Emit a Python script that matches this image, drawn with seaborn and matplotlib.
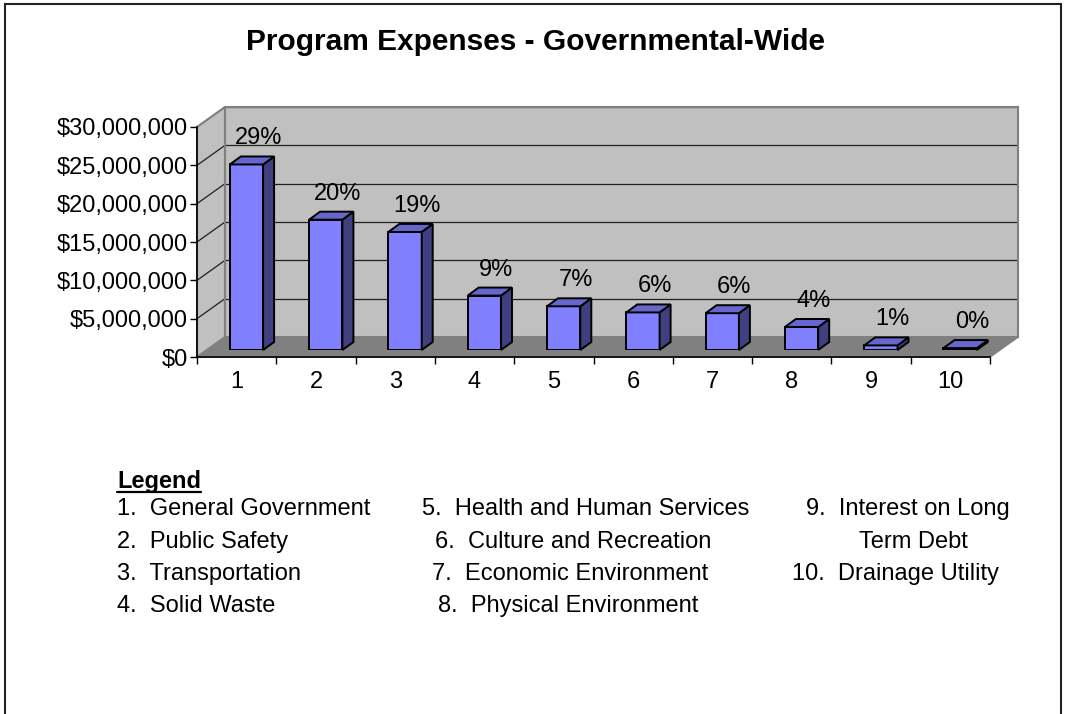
import matplotlib
matplotlib.use("Agg")
import matplotlib.pyplot as plt
import pandas as pd
import seaborn as sns
from matplotlib.patches import Polygon, Rectangle
from matplotlib.lines import Line2D
from matplotlib.transforms import IdentityTransform
from matplotlib.ticker import FuncFormatter, FixedLocator

# ---- data -------------------------------------------------------------
categories = ["1", "2", "3", "4", "5", "6", "7", "8", "9", "10"]
programs = [
    "General Government", "Public Safety", "Transportation", "Solid Waste",
    "Health and Human Services", "Culture and Recreation",
    "Economic Environment", "Physical Environment",
    "Interest on Long Term Debt", "Drainage Utility",
]
expenses = [24.2e6, 17.0e6, 15.4e6, 7.1e6, 5.7e6, 4.9e6, 4.8e6, 3.0e6, 0.6e6, 0.25e6]
y_ticks = [0, 5e6, 10e6, 15e6, 20e6, 25e6, 30e6]
title = "Program Expenses - Governmental-Wide"

# ---- style ------------------------------------------------------------
sns.set_theme(style="white")
plt.rcParams["font.family"] = ["Liberation Sans", "DejaVu Sans"]
plt.rcParams.update({"text.color": "black", "axes.labelcolor": "black",
                     "xtick.color": "black", "ytick.color": "black"})

W, H = 1065, 714
fig = plt.figure(figsize=(W / 100, H / 100), dpi=100)
fig.patch.set_facecolor("white")


def box(left, top, right, bottom):
    return [left / W, 1 - bottom / H, (right - left) / W, (bottom - top) / H]


FRONT_FILL = "#8080FF"
TOP_FILL = "#6666CC"
SIDE_FILL = "#404080"
WALL = "#C0C0C0"
FLOOR = "#808080"
EDGE = "#808080"
DEPTH = (11, 8)          # bar depth in pixels (right, up)
FS = 17

# back wall, bar plane and front (axis) plane share the same data limits
ax_back = fig.add_axes(box(225, 107, 1018, 337), zorder=0)
ax_bar = fig.add_axes(box(206.8, 120, 999.8, 350), zorder=1)
ax_front = fig.add_axes(box(197, 127, 990, 357), zorder=2)
for a in (ax_back, ax_bar, ax_front):
    a.set_xlim(-0.5, len(categories) - 0.5)
    a.set_ylim(0, y_ticks[-1])

# ---- back wall --------------------------------------------------------
ax_back.set_facecolor(WALL)
ax_back.set_yticks(y_ticks)
ax_back.set_xticks([])
ax_back.yaxis.grid(True, color="#202020", lw=0.9)
ax_back.tick_params(left=False, labelleft=False, bottom=False, labelbottom=False)
for s in ax_back.spines.values():
    s.set_color(EDGE)
    s.set_linewidth(1.5)


def disp(ax, x, y):
    return ax.transData.transform((x, y))


x_lo, x_hi = -0.5, len(categories) - 0.5
ident = IdentityTransform()

floor = [disp(ax_front, x_lo, 0), disp(ax_front, x_hi, 0),
         disp(ax_back, x_hi, 0), disp(ax_back, x_lo, 0)]
ax_back.add_patch(Polygon(floor, closed=True, transform=ident, facecolor=FLOOR,
                          edgecolor=EDGE, lw=1.2, clip_on=False))
side_wall = [disp(ax_front, x_lo, 0), disp(ax_front, x_lo, y_ticks[-1]),
             disp(ax_back, x_lo, y_ticks[-1]), disp(ax_back, x_lo, 0)]
ax_back.add_patch(Polygon(side_wall, closed=True, transform=ident, facecolor=WALL,
                          edgecolor=EDGE, lw=1.5, clip_on=False))
for v in y_ticks[1:]:
    p0, p1 = disp(ax_front, x_lo, v), disp(ax_back, x_lo, v)
    ax_back.add_line(Line2D([p0[0], p1[0]], [p0[1], p1[1]], transform=ident,
                            color="#202020" if v < y_ticks[-1] else EDGE,
                            lw=0.9, clip_on=False))

# ---- bars -------------------------------------------------------------
df = pd.DataFrame({"category": categories, "expense": expenses})
sns.barplot(data=df, x="category", y="expense", ax=ax_bar, color=FRONT_FILL,
            saturation=1, width=0.42, edgecolor="black", linewidth=1.4)
ax_bar.set_xlim(x_lo, x_hi)
ax_bar.set_ylim(0, y_ticks[-1])
ax_bar.set_axis_off()

dx, dy = DEPTH
total = sum(expenses)
for i, (patch, v) in enumerate(zip(ax_bar.patches, expenses)):
    x0, y0 = disp(ax_bar, patch.get_x(), 0)
    x1, y1 = disp(ax_bar, patch.get_x() + patch.get_width(), patch.get_height())
    top = [(x0, y1), (x1, y1), (x1 + dx, y1 + dy), (x0 + dx, y1 + dy)]
    side = [(x1, y0), (x1, y1), (x1 + dx, y1 + dy), (x1 + dx, y0 + dy)]
    for pts, fc in ((side, SIDE_FILL), (top, TOP_FILL)):
        ax_bar.add_patch(Polygon(pts, closed=True, transform=ident, facecolor=fc,
                                 edgecolor="black", lw=1.4, joinstyle="miter",
                                 clip_on=False, zorder=3))
    ax_bar.annotate(f"{v / total:.0%}", xy=(i, v), xytext=(12, 26),
                    textcoords="offset pixels", ha="center", va="center",
                    fontsize=FS, color="black", annotation_clip=False)

# ---- front axes (ticks and labels) ------------------------------------
ax_front.patch.set_alpha(0)
for side_name in ("top", "right"):
    ax_front.spines[side_name].set_visible(False)
for side_name in ("left", "bottom"):
    ax_front.spines[side_name].set_color("black")
    ax_front.spines[side_name].set_linewidth(1.2)
ax_front.yaxis.set_major_locator(FixedLocator(y_ticks))
ax_front.yaxis.set_major_formatter(FuncFormatter(lambda v, _: f"${v:,.0f}"))
ax_front.set_xticks(range(len(categories)))
ax_front.set_xticklabels(categories)
ax_front.xaxis.set_minor_locator(FixedLocator([k - 0.5 for k in range(len(categories) + 1)]))
ax_front.tick_params(axis="y", which="major", direction="out", length=5, width=1,
                     color="black", labelcolor="black", labelsize=FS, pad=1.5, left=True)
ax_front.tick_params(axis="x", which="major", length=0, labelsize=FS,
                     labelcolor="black", pad=10, bottom=True)
ax_front.tick_params(axis="x", which="minor", direction="out", length=5, width=1,
                     color="black", bottom=True)
ax_front.set_xlabel("")
ax_front.set_ylabel("")

# ---- title ------------------------------------------------------------
fig.text(535 / W, 1 - 50 / H, title, ha="center", va="baseline",
         fontsize=21.5, fontweight="bold", color="black")

# ---- legend -----------------------------------------------------------
legend_head = fig.text(117 / W, 1 - 488 / H, "Legend", ha="left", va="baseline",
                       fontsize=FS, fontweight="bold", color="black")
legend_x = [117, 117, 117, 117, 422, 435, 432, 438, 806, 792]
legend_y = [515, 548, 580, 612, 515, 548, 580, 612, 515, 580]
for k, (name, lx, ly) in enumerate(zip(programs, legend_x, legend_y)):
    label = f"{k + 1}.  {name}"
    if name.startswith("Interest"):
        first, second = label.rsplit(" Term", 1)
        fig.text(lx / W, 1 - ly / H, first, ha="left", va="baseline",
                 fontsize=FS, color="black")
        fig.text(859 / W, 1 - (ly + 33) / H, "Term" + second, ha="left",
                 va="baseline", fontsize=FS, color="black")
    else:
        fig.text(lx / W, 1 - ly / H, label, ha="left", va="baseline",
                 fontsize=FS, color="black")

renderer = fig.canvas.get_renderer()
bb = legend_head.get_window_extent(renderer=renderer)
fig.add_artist(Line2D([bb.x0 / W, bb.x1 / W], [1 - 492 / H, 1 - 492 / H],
                      transform=fig.transFigure, color="black", lw=1.6))

# ---- page frame -------------------------------------------------------
fig.add_artist(Rectangle((5 / W, -0.05), 1056 / W, 1.05 - 4 / H,
                         transform=fig.transFigure, fill=False,
                         edgecolor="#222222", lw=1.5))

fig.savefig("out.png", dpi=100)
